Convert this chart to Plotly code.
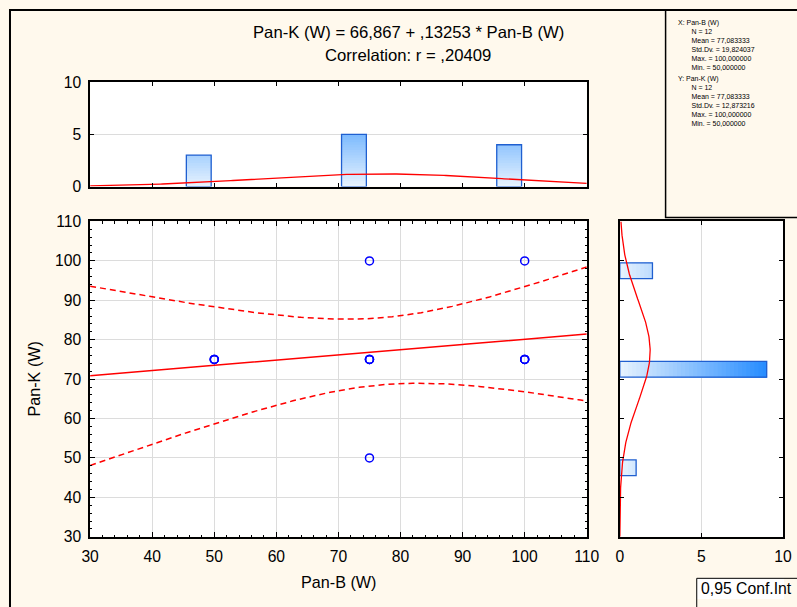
import numpy as np
import plotly.graph_objects as go

# ---------------- data ----------------
pan_b = [50, 50, 50, 75, 75, 75, 75, 75, 100, 100, 100, 100]   # X: Pan-B (W)
pan_k = [75, 75, 75, 100, 75, 75, 75, 50, 100, 75, 75, 75]     # Y: Pan-K (W)

bin_centers = [47.5, 72.5, 97.5]     # histogram bins (width 5)
hist_x_counts = [3, 5, 4]            # Pan-B counts
hist_y_counts = [1, 9, 2]            # Pan-K counts
bin_width = 5

title_line1 = "Pan-K (W) = 66,867 + ,13253 * Pan-B (W)"
title_line2 = "Correlation: r = ,20409"
x_title = "Pan-B (W)"
y_title = "Pan-K (W)"
conf_label = "0,95 Conf.Int"
t_crit = 2.228139   # t(0.975, df=10)

# ---------------- derived fits ----------------
x = np.array(pan_b, float)
y = np.array(pan_k, float)
n = len(x)
mx, my = x.mean(), y.mean()
sx, sy = x.std(ddof=1), y.std(ddof=1)
slope, intercept = np.polyfit(x, y, 1)
resid = y - (intercept + slope * x)
s_res = np.sqrt((resid ** 2).sum() / (n - 2))
sxx = ((x - mx) ** 2).sum()

xs = np.linspace(30, 110, 241)
yfit = intercept + slope * xs
half = t_crit * s_res * np.sqrt(1 / n + (xs - mx) ** 2 / sxx)

# ---------------- geometry ----------------
W, H = 797, 607
# the photographed page is shown slightly reduced and offset; place items so they land at the
# intended picture positions
KX, KY, OX, OY = 0.977, 0.974, 7.8, 7.8
def SX(v): return (v - OX) / KX
def SY(v): return (v - OY) / KY
def PX(v): return SX(v) / W
def PY(v): return 1 - SY(v) / H
def FS(v): return v / KX

FONT = "Liberation Sans, Arial, sans-serif"
BG = "#FFF9ED"

fig = go.Figure()

def grad_color(v):
    t = min(max(v / 9.5, 0), 1)
    c0 = (232, 243, 254); c1 = (26, 134, 255)
    return "rgb(%d,%d,%d)" % tuple(round(a + (b - a) * t) for a, b in zip(c0, c1))

step = 0.25
for k in range(40):
    base = k * step
    segx = [max(c - base, 0) for c in hist_x_counts]
    fig.add_trace(go.Bar(x=bin_centers, y=segx, base=[base] * len(segx), width=4,
                         marker=dict(color=grad_color(base + step / 2), line=dict(width=0)),
                         xaxis="x2", yaxis="y2", showlegend=False, hoverinfo="skip"))
    segy = [max(c - base, 0) for c in hist_y_counts]
    fig.add_trace(go.Bar(y=bin_centers, x=segy, base=[base] * len(segy), width=4, orientation="h",
                         marker=dict(color=grad_color(base + step / 2), line=dict(width=0)),
                         xaxis="x3", yaxis="y3", showlegend=False, hoverinfo="skip"))

OUT = "#1f5fd0"
fig.add_trace(go.Bar(x=bin_centers, y=hist_x_counts, width=4,
                     marker=dict(color="rgba(0,0,0,0)", line=dict(color=OUT, width=1.3)),
                     xaxis="x2", yaxis="y2", showlegend=False))
fig.add_trace(go.Bar(y=bin_centers, x=hist_y_counts, width=4, orientation="h",
                     marker=dict(color="rgba(0,0,0,0)", line=dict(color=OUT, width=1.3)),
                     xaxis="x3", yaxis="y3", showlegend=False))

# normal curves
pdf_x = n * bin_width / (sx * np.sqrt(2 * np.pi)) * np.exp(-0.5 * ((xs - mx) / sx) ** 2)
fig.add_trace(go.Scatter(x=xs, y=pdf_x, mode="lines", line=dict(color="red", width=1.3),
                         xaxis="x2", yaxis="y2", showlegend=False))
ys = np.linspace(30, 110, 241)
pdf_y = n * bin_width / (sy * np.sqrt(2 * np.pi)) * np.exp(-0.5 * ((ys - my) / sy) ** 2)
fig.add_trace(go.Scatter(x=pdf_y, y=ys, mode="lines", line=dict(color="red", width=1.3),
                         xaxis="x3", yaxis="y3", showlegend=False))

# main scatter
fig.add_trace(go.Scatter(x=xs, y=yfit + half, mode="lines",
                         line=dict(color="red", width=1.5, dash="6px,4px"), showlegend=False))
fig.add_trace(go.Scatter(x=xs, y=yfit - half, mode="lines",
                         line=dict(color="red", width=1.5, dash="6px,4px"), showlegend=False))
fig.add_trace(go.Scatter(x=xs, y=yfit, mode="lines", line=dict(color="red", width=1.5), showlegend=False))
fig.add_trace(go.Scatter(x=pan_b, y=pan_k, mode="markers",
                         marker=dict(symbol="circle-open", size=8, color="#0000ff", line=dict(width=1.5)),
                         showlegend=False))

main_x = [PX(89.3), PX(588.3)]
main_y = [PY(536.7), PY(220.7)]
top_y = [PY(185.7), PY(81)]
right_x = [PX(621.5), PX(785.5)]

TICK = FS(15.3)
axcommon = dict(showline=True, linecolor="black", linewidth=1.5, mirror="allticks",
                ticks="inside", tickcolor="black", zeroline=False,
                tickfont=dict(family=FONT, size=TICK, color="black"), gridcolor="#dcdcdc")

fig.update_layout(
    width=W, height=H, margin=dict(l=0, r=0, t=0, b=0),
    paper_bgcolor=BG, plot_bgcolor="white", barmode="overlay", showlegend=False,
    font=dict(family=FONT, color="black"),
    xaxis=dict(domain=main_x, range=[30, 110], dtick=10, tick0=30, ticklen=5, showgrid=True,
               minor=dict(ticks="inside", dtick=2, ticklen=2.5, tickcolor="black", showgrid=False),
               anchor="y", ticklabelstandoff=5, **axcommon),
    yaxis=dict(domain=main_y, range=[30, 110], dtick=10, tick0=30, ticklen=5, showgrid=True,
               minor=dict(ticks="inside", dtick=2, ticklen=2.5, tickcolor="black", showgrid=False),
               anchor="x", ticklabelstandoff=4, **axcommon),
    xaxis2=dict(domain=main_x, range=[30, 110], dtick=10, tick0=30, ticklen=4, showgrid=False,
                showticklabels=False, anchor="y2", **axcommon),
    yaxis2=dict(domain=top_y, range=[0, 10], dtick=5, ticklen=4, showgrid=True,
                anchor="x2", ticklabelstandoff=4, **axcommon),
    xaxis3=dict(domain=right_x, range=[0, 10], dtick=5, ticklen=4, showgrid=True,
                anchor="y3", ticklabelstandoff=5, **axcommon),
    yaxis3=dict(domain=main_y, range=[30, 110], dtick=10, tick0=30, ticklen=4, showgrid=False,
                showticklabels=False, anchor="x3", **axcommon),
)

def path(pts):
    return "M " + " L ".join("%.5f,%.5f" % (PX(a), PY(b)) for a, b in pts)

R, B = 800, 612
shapes = [
    dict(type="path", xref="paper", yref="paper", path=path([(8.8, B), (8.8, 8.8), (R, 8.8)]),
         line=dict(color="black", width=2), layer="above"),
    dict(type="path", xref="paper", yref="paper",
         path=path([(R, 8.8), (667.5, 8.8), (667.5, 216.7), (R, 216.7)]),
         line=dict(color="black", width=1.5), layer="above"),
    dict(type="rect", xref="paper", yref="paper", x0=PX(698.8), y0=0, x1=1, y1=PY(578.3),
         line=dict(width=0), fillcolor="white", layer="above"),
    dict(type="path", xref="paper", yref="paper",
         path=path([(698.8, B), (698.8, 578.3), (R, 578.3)]),
         line=dict(color="black", width=1), layer="above"),
]
fig.update_layout(shapes=shapes)

ann = []
def add_text(txt, xp, yp, size, xanchor="center", angle=0, yanchor="middle"):
    ann.append(dict(text=txt, x=PX(xp), y=PY(yp), xref="paper", yref="paper", showarrow=False,
                    xanchor=xanchor, yanchor=yanchor, textangle=angle, align="left",
                    font=dict(family=FONT, size=FS(size), color="black")))

add_text(title_line1, 409, 31.7, 16.3)
add_text(title_line2, 409, 54.3, 16.3)
add_text(x_title, 338.7, 582, 15.8)
add_text(y_title, 33, 379, 15.8, angle=-90)
add_text(conf_label, 701.5, 588.5, 15.4, xanchor="left")

def fmt(v):
    return ("%.6f" % v).replace(".", ",")

IND = "&nbsp;" * 7
blocks = [("X:", x_title, x, 16), ("Y:", y_title, y, 72)]
for lab, name, arr, ytop in blocks:
    lines = [lab + " " + name, IND + "N = %d" % len(arr), IND + "Mean = " + fmt(arr.mean()),
             IND + "Std.Dv. = " + fmt(arr.std(ddof=1)),
             IND + "Max. = " + fmt(arr.max()), IND + "Min. = " + fmt(arr.min())]
    add_text("<br>".join(lines), 677.5, ytop, 6.8, xanchor="left", yanchor="top")

fig.update_layout(annotations=ann)
fig.write_html("out.html", config={"displayModeBar": False},
               post_script="document.body.style.margin='0';document.body.style.background='%s';"
                           "document.documentElement.style.overflow='hidden';" % BG)
